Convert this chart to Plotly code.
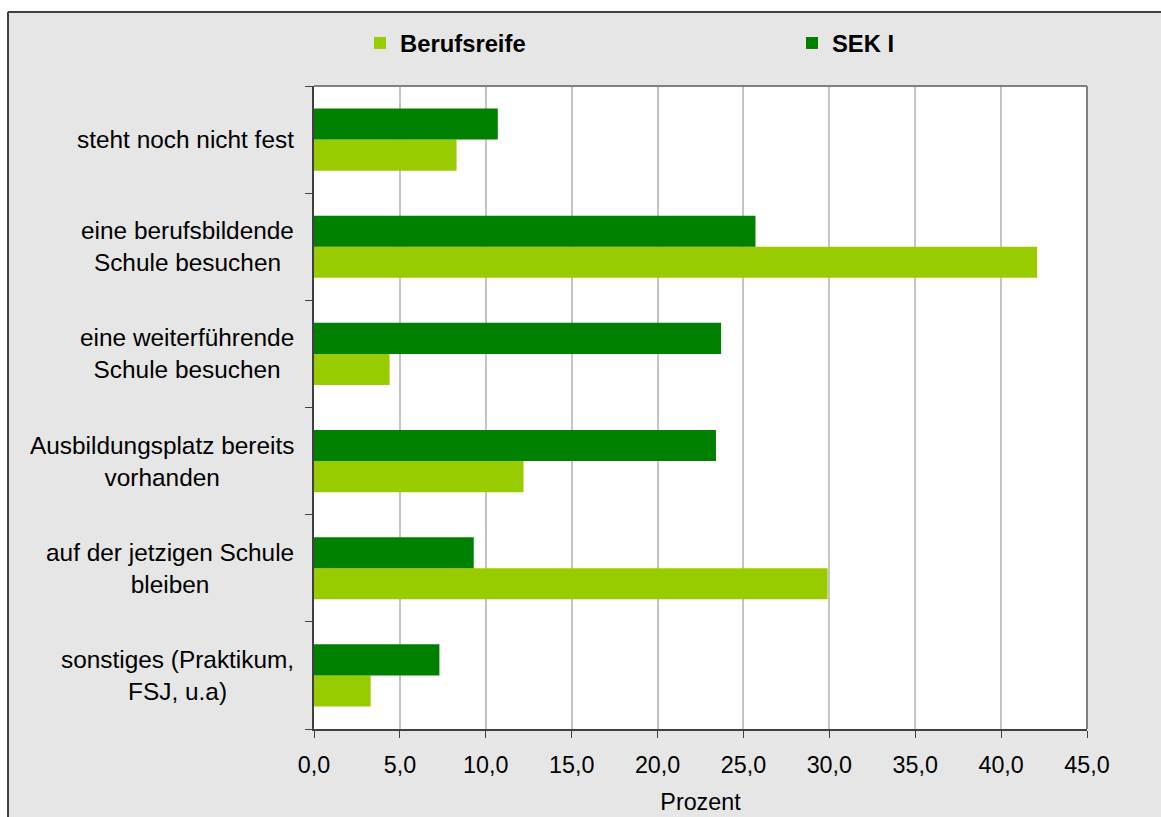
import plotly.graph_objects as go

categories = [
    "steht noch nicht fest",
    "eine berufsbildende<br>Schule besuchen",
    "eine weiterführende<br>Schule besuchen",
    "Ausbildungsplatz bereits<br>vorhanden",
    "auf der jetzigen Schule<br>bleiben",
    "sonstiges (Praktikum,<br>FSJ, u.a)",
]
berufsreife = [8.3, 42.1, 4.4, 12.2, 29.9, 3.3]
sek1 = [10.7, 25.7, 23.7, 23.4, 9.3, 7.3]

W, H = 1161, 817
L, R, T, B = 314, 1161 - 1087, 86, 817 - 729
PW, PH = W - L - R, H - T - B

def px(x):
    return (x - L) / PW

def py(y):
    return (H - B - y) / PH

FONT = "Liberation Sans, Arial, sans-serif"

fig = go.Figure()
fig.add_trace(go.Bar(name="Berufsreife", y=categories, x=berufsreife, orientation="h",
                     marker=dict(color="#99cc00", line=dict(width=0)), legend="legend"))
fig.add_trace(go.Bar(name="SEK I", y=categories, x=sek1, orientation="h",
                     marker=dict(color="#008000", line=dict(width=0)), legend="legend2"))

annotations = []
for c in categories:
    annotations.append(dict(x=0, xref="paper", y=c, yref="y", text=c, showarrow=False,
                            xanchor="right", yanchor="middle", xshift=-18, align="center",
                            font=dict(family=FONT, size=24.4, color="#000000")))

shapes = [
    # plot-area top and right border
    dict(type="line", xref="paper", yref="paper", x0=0, x1=1, y0=1, y1=1,
         line=dict(color="#808080", width=2)),
    dict(type="line", xref="paper", yref="paper", x0=1, x1=1, y0=0, y1=1,
         line=dict(color="#808080", width=2)),
    # white outside the outer frame
    dict(type="rect", xref="paper", yref="paper", x0=px(-20), x1=px(W + 20), y0=py(11), y1=py(-20),
         fillcolor="white", line=dict(width=0), layer="above"),
    dict(type="rect", xref="paper", yref="paper", x0=px(-20), x1=px(7), y0=py(H + 20), y1=py(-20),
         fillcolor="white", line=dict(width=0), layer="above"),
    # outer frame lines
    dict(type="line", xref="paper", yref="paper", x0=px(8), x1=px(W + 20), y0=py(12), y1=py(12),
         line=dict(color="#404040", width=2)),
    dict(type="line", xref="paper", yref="paper", x0=px(8), x1=px(8), y0=py(H + 20), y1=py(12),
         line=dict(color="#404040", width=2)),
]

legend_font = dict(family=FONT, size=23.8, color="#000000", weight="bold")

fig.update_layout(
    width=W, height=H,
    margin=dict(l=L, r=R, t=T, b=B, pad=0, autoexpand=False),
    paper_bgcolor="#e6e6e6",
    plot_bgcolor="#ffffff",
    barmode="group",
    bargap=0.42,
    bargroupgap=0,
    separators=",.",
    font=dict(family=FONT, size=23, color="#000000"),
    showlegend=True,
    legend=dict(orientation="h", x=px(360), y=py(43), xanchor="left", yanchor="middle",
                bgcolor="rgba(0,0,0,0)", font=legend_font),
    legend2=dict(orientation="h", x=px(792), y=py(43), xanchor="left", yanchor="middle",
                 bgcolor="rgba(0,0,0,0)", font=legend_font),
    annotations=annotations,
    shapes=shapes,
)
fig.update_xaxes(
    range=[0, 45], dtick=5, tick0=0, tickformat=".1f",
    showgrid=True, gridcolor="#c4c4c4", gridwidth=2,
    showline=True, linecolor="#404040", linewidth=2,
    ticks="outside", ticklen=7, tickcolor="#404040", tickwidth=1,
    ticklabelstandoff=7,
    zeroline=False,
    tickfont=dict(family=FONT, size=23.3, color="#000000"),
    title=dict(text="Prozent", font=dict(family=FONT, size=23.3, color="#000000"), standoff=17),
)
fig.update_yaxes(
    type="category", categoryorder="array", categoryarray=list(reversed(categories)),
    showticklabels=False, showgrid=False,
    showline=True, linecolor="#404040", linewidth=2,
    ticks="outside", tickson="boundaries", ticklen=7, tickcolor="#404040", tickwidth=1,
    zeroline=False,
)

fig.write_html("out.html")
